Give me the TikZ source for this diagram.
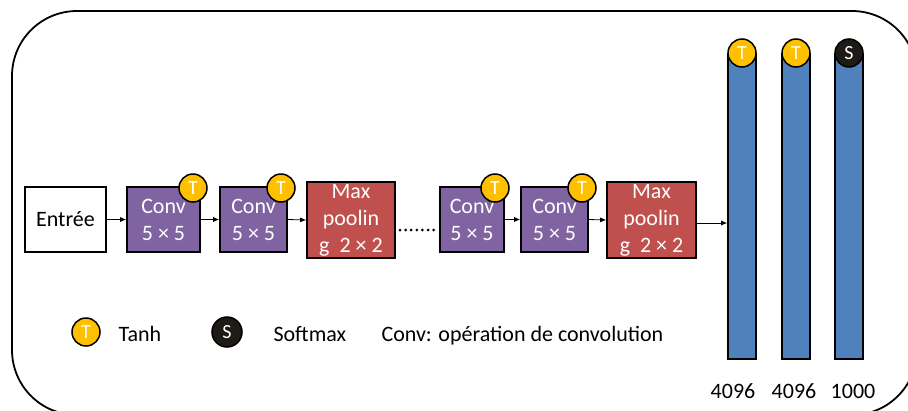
\documentclass[tikz,border=0pt]{standalone}
\usepackage{fontspec}
\setmainfont{Carlito}
\usetikzlibrary{arrows.meta}
\definecolor{convpurple}{HTML}{8064A2}
\definecolor{poolred}{HTML}{C0504D}
\definecolor{fcblue}{HTML}{4F81BD}
\definecolor{tanhyellow}{HTML}{FFC000}
\definecolor{softblack}{HTML}{1E1A16}
\tikzset{
  lbl/.style={font=\fontsize{22}{27}\selectfont, align=center},
  layer/.style={lbl, draw=black, line width=1.6pt, inner sep=0pt, minimum height=65},
  inbox/.style={layer, fill=white, text=black},
  convbox/.style={layer, fill=convpurple, text=white},
  poolbox/.style={layer, fill=poolred, text=white, minimum height=76},
  fcbar/.style={draw=black, line width=1.6pt, fill=fcblue, inner sep=0pt, minimum width=28, minimum height=305, anchor=north},
  actcirc/.style={circle, draw=black, line width=1.5pt, inner sep=0pt, minimum size=28, text=white, font=\fontsize{20}{20}\selectfont},
  tanhc/.style={actcirc, fill=tanhyellow},
  softc/.style={actcirc, fill=softblack},
  flow/.style={-{Latex[length=6,width=5]}, line width=0.8pt, black},
}
\begin{document}
\begin{tikzpicture}[x=1pt, y=-1pt]
\useasboundingbox (0,0) rectangle (908,410);
\begin{scope}
\clip (0,0) rectangle (908,410);
% outer frame
\draw[line width=1.8pt, rounded corners=65] (12,11) rectangle (917,415);
\end{scope}

% feature extraction chain
\node[inbox, minimum width=81] (in) at (65.5,219.5) {Entrée};
\node[convbox, minimum width=73] (c1) at (163.5,219.5) {Conv\\5 × 5};
\node[convbox, minimum width=67] (c2) at (253.5,219.5) {Conv\\5 × 5};
\node[poolbox, minimum width=88] (p1) at (351,220) {Max\\poolin\\g\ \ 2 × 2};
\node[convbox, minimum width=64] (c3) at (472,219.5) {Conv\\5 × 5};
\node[convbox, minimum width=67] (c4) at (554.5,219.5) {Conv\\5 × 5};
\node[poolbox, minimum width=89] (p2) at (651.5,220) {Max\\poolin\\g\ \ 2 × 2};

% activation badges
\node[tanhc] (t1) at (193,188) {T};
\node[tanhc] (t2) at (281,188) {T};
\node[tanhc] (t3) at (495,188) {T};
\node[tanhc] (t4) at (582,188) {T};

% fully connected layers
\node[fcbar] (f1) at (742,53) {};
\node[fcbar] (f2) at (796,53) {};
\node[fcbar] (f3) at (849,53) {};
\node[tanhc] (ft1) at (f1.north) {T};
\node[tanhc] (ft2) at (f2.north) {T};
\node[softc] (fs3) at (f3.north) {S};

\node[lbl, anchor=base] (n1) at (733,398) {4096};
\node[lbl, anchor=base] (n2) at (794,398) {4096};
\node[lbl, anchor=base] (n3) at (853,398) {1000};

% connections
\draw[flow] (in.east) -- (c1.west);
\draw[flow] (c1.east) -- (c2.west);
\draw[flow] (c2.east) -- (p1.west);
\coordinate (d0) at (400,230);
\coordinate (d1) at (437,230);
\draw[line width=3pt, line cap=round, dash pattern=on 0pt off 5.6pt] (d0) -- (d1);
\draw[flow] (c3.east) -- (c4.west);
\draw[flow] (c4.east) -- (p2.west);
\draw[flow] ([yshift=-3]p2.east) -- ([yshift=-3]p2.east -| f1.west);

% legend
\node[tanhc] (lt) at (86,332) {T};
\node[lbl, anchor=base west] (ltx) at (115,341) {Tanh};
\node[softc, minimum size=30] (ls) at (227,332) {S};
\node[lbl, anchor=base west] (lsx) at (270,341) {Softmax};
\node[lbl, anchor=base west] (lcx) at (378,341) {Conv: opération de convolution};
\end{tikzpicture}
\end{document}
